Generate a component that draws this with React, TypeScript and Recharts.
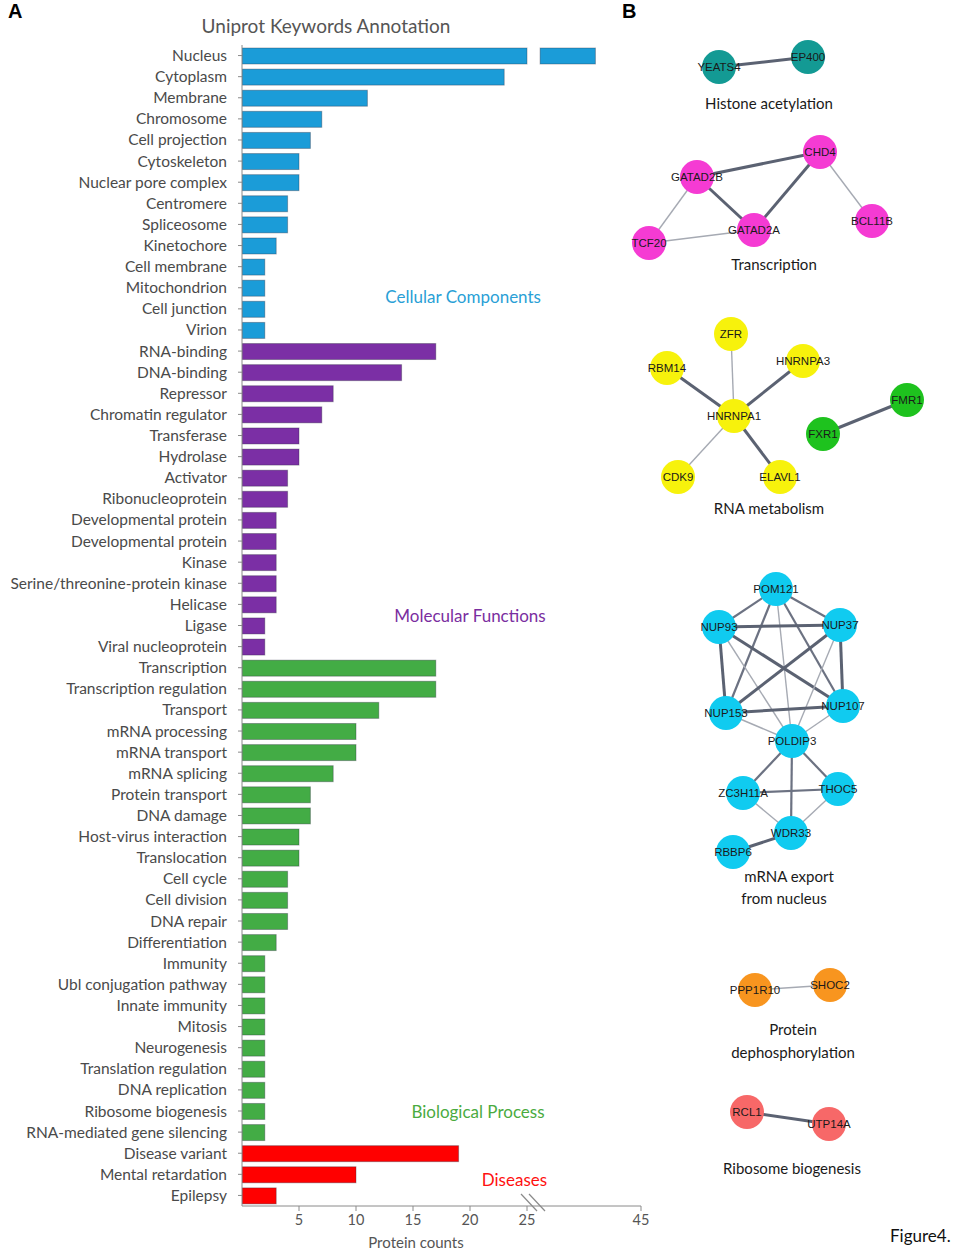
import { BarChart, Bar, XAxis, YAxis, Cell, ReferenceDot, ScatterChart, Scatter } from 'recharts';

// ── Panel A data ────────────────────────────────────────────────
const cellularComponents = [
  'Nucleus', 'Cytoplasm', 'Membrane', 'Chromosome', 'Cell projection', 'Cytoskeleton',
  'Nuclear pore complex', 'Centromere', 'Spliceosome', 'Kinetochore', 'Cell membrane',
  'Mitochondrion', 'Cell junction', 'Virion',
];
const cellularCounts = [37, 23, 11, 7, 6, 5, 5, 4, 4, 3, 2, 2, 2, 2];

const molecularFunctions = [
  'RNA-binding', 'DNA-binding', 'Repressor', 'Chromatin regulator', 'Transferase', 'Hydrolase',
  'Activator', 'Ribonucleoprotein', 'Developmental protein', 'Developmental protein', 'Kinase',
  'Serine/threonine-protein kinase', 'Helicase', 'Ligase', 'Viral nucleoprotein',
];
const molecularCounts = [17, 14, 8, 7, 5, 5, 4, 4, 3, 3, 3, 3, 3, 2, 2];

const biologicalProcesses = [
  'Transcription', 'Transcription regulation', 'Transport', 'mRNA processing', 'mRNA transport',
  'mRNA splicing', 'Protein transport', 'DNA damage', 'Host-virus interaction', 'Translocation',
  'Cell cycle', 'Cell division', 'DNA repair', 'Differentiation', 'Immunity',
  'Ubl conjugation pathway', 'Innate immunity', 'Mitosis', 'Neurogenesis',
  'Translation regulation', 'DNA replication', 'Ribosome biogenesis', 'RNA-mediated gene silencing',
];
const biologicalCounts = [17, 17, 12, 10, 10, 8, 6, 6, 5, 5, 4, 4, 4, 3, 2, 2, 2, 2, 2, 2, 2, 2, 2];

const diseases = ['Disease variant', 'Mental retardation', 'Epilepsy'];
const diseaseCounts = [19, 10, 3];

const xTickValues = [5, 10, 15, 20, 25, 45];

// axis break: everything above 25 is squeezed
const BREAK_AT = 25;
const SQUEEZE = 0.5;
const AXIS_MAX = 45;
const toAxis = (v: number) => (v <= BREAK_AT ? v : BREAK_AT + (v - BREAK_AT) * SQUEEZE);
const fromAxis = (a: number) => (a <= BREAK_AT ? a : Math.round(BREAK_AT + (a - BREAK_AT) / SQUEEZE));

const groups = [
  { key: 'cc', label: 'Cellular Components', color: '#1b9cd8', text: '#2a9fd6', names: cellularComponents, counts: cellularCounts },
  { key: 'mf', label: 'Molecular Functions', color: '#7b2fa5', text: '#7a2ea0', names: molecularFunctions, counts: molecularCounts },
  { key: 'bp', label: 'Biological Process', color: '#43ac45', text: '#4aab3f', names: biologicalProcesses, counts: biologicalCounts },
  { key: 'ds', label: 'Diseases', color: '#ff0000', text: '#ff1010', names: diseases, counts: diseaseCounts },
];

const rows = groups.flatMap((g) =>
  g.names.map((name, i) => ({
    id: `${g.key}-${i}`,
    name,
    count: g.counts[i],
    plot: toAxis(g.counts[i]),
    color: g.color,
  }))
);
const nameById: Record<string, string> = Object.fromEntries(rows.map((r) => [r.id, r.name]));

// where each group caption sits (row anchor + value on x)
const groupLabelSpots = [
  { group: 'cc', row: 'cc-11', x: 19.4, dy: 9 },
  { group: 'mf', row: 'mf-12', x: 20.0, dy: 12 },
  { group: 'bp', row: 'bp-21', x: 20.7, dy: 1 },
  { group: 'ds', row: 'ds-1', x: 23.9, dy: 6 },
];

// ── Panel B data (network layouts) ──────────────────────────────
const histoneNodes = [
  { name: 'YEATS4', x: 719, y: 67 },
  { name: 'EP400', x: 808, y: 57 },
];
const histoneEdges = [['YEATS4', 'EP400', 'thick']];

const transcriptionNodes = [
  { name: 'CHD4', x: 820, y: 152 },
  { name: 'GATAD2B', x: 697, y: 177 },
  { name: 'GATAD2A', x: 754, y: 230 },
  { name: 'TCF20', x: 649, y: 243 },
  { name: 'BCL11B', x: 872, y: 221 },
];
const transcriptionEdges = [
  ['GATAD2B', 'CHD4', 'thick'],
  ['GATAD2B', 'GATAD2A', 'thick'],
  ['GATAD2A', 'CHD4', 'thick'],
  ['GATAD2B', 'TCF20', 'thin'],
  ['TCF20', 'GATAD2A', 'thin'],
  ['CHD4', 'BCL11B', 'thin'],
];

const rnaNodes = [
  { name: 'ZFR', x: 731, y: 334 },
  { name: 'RBM14', x: 667, y: 368 },
  { name: 'HNRNPA3', x: 803, y: 361 },
  { name: 'HNRNPA1', x: 734, y: 416 },
  { name: 'CDK9', x: 678, y: 477 },
  { name: 'ELAVL1', x: 780, y: 477 },
];
const rnaEdges = [
  ['HNRNPA1', 'ZFR', 'thin'],
  ['HNRNPA1', 'RBM14', 'thick'],
  ['HNRNPA1', 'HNRNPA3', 'thick'],
  ['HNRNPA1', 'CDK9', 'thin'],
  ['HNRNPA1', 'ELAVL1', 'thick'],
];

const fragileNodes = [
  { name: 'FMR1', x: 907, y: 400 },
  { name: 'FXR1', x: 823, y: 434 },
];
const fragileEdges = [['FXR1', 'FMR1', 'thick']];

const exportNodes = [
  { name: 'POM121', x: 776, y: 589 },
  { name: 'NUP93', x: 719, y: 627 },
  { name: 'NUP37', x: 840, y: 625 },
  { name: 'NUP153', x: 726, y: 713 },
  { name: 'NUP107', x: 843, y: 706 },
  { name: 'POLDIP3', x: 792, y: 741 },
  { name: 'ZC3H11A', x: 743, y: 793 },
  { name: 'THOC5', x: 838, y: 789 },
  { name: 'WDR33', x: 791, y: 833 },
  { name: 'RBBP6', x: 733, y: 852 },
];
const exportEdges = [
  ['POM121', 'NUP93', 'medium'],
  ['POM121', 'NUP37', 'medium'],
  ['POM121', 'NUP153', 'medium'],
  ['POM121', 'NUP107', 'medium'],
  ['POM121', 'POLDIP3', 'thin'],
  ['NUP93', 'NUP37', 'thick'],
  ['NUP93', 'NUP153', 'thick'],
  ['NUP93', 'NUP107', 'thick'],
  ['NUP93', 'POLDIP3', 'thin'],
  ['NUP37', 'NUP153', 'thick'],
  ['NUP37', 'NUP107', 'thick'],
  ['NUP37', 'POLDIP3', 'thin'],
  ['NUP153', 'NUP107', 'thick'],
  ['NUP153', 'POLDIP3', 'thin'],
  ['NUP107', 'POLDIP3', 'thin'],
  ['POLDIP3', 'ZC3H11A', 'medium'],
  ['POLDIP3', 'THOC5', 'medium'],
  ['POLDIP3', 'WDR33', 'medium'],
  ['ZC3H11A', 'THOC5', 'medium'],
  ['ZC3H11A', 'WDR33', 'thin'],
  ['THOC5', 'WDR33', 'thin'],
  ['WDR33', 'RBBP6', 'thick'],
];

const dephosNodes = [
  { name: 'PPP1R10', x: 755, y: 990 },
  { name: 'SHOC2', x: 830, y: 985 },
];
const dephosEdges = [['PPP1R10', 'SHOC2', 'thin']];

const riboNodes = [
  { name: 'RCL1', x: 747, y: 1112 },
  { name: 'UTP14A', x: 829, y: 1124 },
];
const riboEdges = [['RCL1', 'UTP14A', 'thick']];

const captions = [
  { text: 'Histone acetylation', x: 769, y: 104 },
  { text: 'Transcription', x: 774, y: 265 },
  { text: 'RNA metabolism', x: 769, y: 509 },
  { text: 'mRNA export', x: 789, y: 877 },
  { text: 'from nucleus', x: 784, y: 899 },
  { text: 'Protein', x: 793, y: 1030 },
  { text: 'dephosphorylation', x: 793, y: 1053 },
  { text: 'Ribosome biogenesis', x: 792, y: 1169 },
];

const networks = [
  { nodes: histoneNodes, edges: histoneEdges, color: '#139a94' },
  { nodes: transcriptionNodes, edges: transcriptionEdges, color: '#f53bd3' },
  { nodes: rnaNodes, edges: rnaEdges, color: '#f7f20c' },
  { nodes: fragileNodes, edges: fragileEdges, color: '#1ec21e' },
  { nodes: exportNodes, edges: exportEdges, color: '#10cbf0' },
  { nodes: dephosNodes, edges: dephosEdges, color: '#f8951f' },
  { nodes: riboNodes, edges: riboEdges, color: '#f76868' },
];

const edgeStyle: Record<string, { stroke: string; strokeWidth: number }> = {
  thick: { stroke: '#5b6272', strokeWidth: 3 },
  medium: { stroke: '#6c7282', strokeWidth: 2.2 },
  thin: { stroke: '#a6aab3', strokeWidth: 1.4 },
};

const FONT = 'Lato, "Open Sans", sans-serif';

// ── shapes ──────────────────────────────────────────────────────
function BrokenBar(props: any) {
  const { x, y, width, height, payload } = props;
  const fill = payload.color;
  const stroke = 'rgba(40,40,60,0.35)';
  if (payload.count <= BREAK_AT) {
    return <rect x={x} y={y} width={width} height={height} fill={fill} stroke={stroke} strokeWidth={1} />;
  }
  const unit = width / payload.plot;
  const cut = x + BREAK_AT * unit;
  const resume = x + (BREAK_AT + 1.15) * unit;
  return (
    <g>
      <rect x={x} y={y} width={cut - x} height={height} fill={fill} stroke={stroke} strokeWidth={1} />
      <rect x={resume} y={y} width={x + width - resume} height={height} fill={fill} stroke={stroke} strokeWidth={1} />
    </g>
  );
}

function XTick({ x, y, payload }: any) {
  const value = fromAxis(payload.value);
  const ay = y - 7;
  return (
    <g>
      <text x={x} y={y} dy={12} textAnchor="middle" fontSize={14.5} fill="#555" fontFamily={FONT}>
        {value}
      </text>
      {value === BREAK_AT && (
        <g stroke="#8a8a8a" strokeWidth={1.2}>
          <line x1={x - 6} y1={ay - 12} x2={x + 10} y2={ay + 5} />
          <line x1={x + 2} y1={ay - 12} x2={x + 18} y2={ay + 5} />
        </g>
      )}
    </g>
  );
}

function NodeShape({ cx, cy, payload, fill }: any) {
  return (
    <g>
      <circle cx={cx} cy={cy} r={17} fill={fill} />
      <text x={cx} y={cy} dy={4} textAnchor="middle" fontSize={11.5} fill="#1a1a1a" fontFamily="Arial, 'Liberation Sans', sans-serif">
        {payload.name}
      </text>
    </g>
  );
}

function CaptionShape({ cx, cy, payload }: any) {
  return (
    <text x={cx} y={cy} dy={5} textAnchor="middle" fontSize={15} fill="#1a1a1a" fontFamily={FONT}>
      {payload.text}
    </text>
  );
}

const noPoint = () => <g />;

// ── main ────────────────────────────────────────────────────────
export default function App() {
  return (
    <div style={{ position: 'relative', width: 955, height: 1251, background: '#fff', fontFamily: FONT }}>
      <style>{'body{margin:0}'}</style>

      <div style={{ position: 'absolute', left: 8, top: 0, fontFamily: 'Arial, sans-serif', fontWeight: 700, fontSize: 20 }}>A</div>
      <div style={{ position: 'absolute', left: 622, top: 0, fontFamily: 'Arial, sans-serif', fontWeight: 700, fontSize: 20 }}>B</div>
      <div style={{ position: 'absolute', left: 160, width: 332, top: 14, textAlign: 'center', fontSize: 19, color: '#555' }}>
        Uniprot Keywords Annotation
      </div>
      <div style={{ position: 'absolute', left: 316, width: 200, top: 1233, textAlign: 'center', fontSize: 15, color: '#555' }}>
        Protein counts
      </div>
      <div style={{ position: 'absolute', left: 890, top: 1225, fontSize: 17, color: '#111' }}>Figure4.</div>

      {/* Panel A */}
      <div style={{ position: 'absolute', left: 0, top: 0 }}>
        <BarChart
          width={660}
          height={1251}
          data={rows}
          layout="vertical"
          margin={{ top: 45, right: 19, bottom: 15, left: 0 }}
          barSize={16}
        >
          <XAxis
            type="number"
            dataKey="plot"
            domain={[0, toAxis(AXIS_MAX)]}
            ticks={xTickValues.map(toAxis)}
            tick={<XTick />}
            tickSize={5}
            tickMargin={2}
            height={30}
            axisLine={{ stroke: '#8a8a8a' }}
            tickLine={{ stroke: '#8a8a8a' }}
            allowDataOverflow
          />
          <YAxis
            type="category"
            dataKey="id"
            width={242}
            interval={0}
            tickFormatter={(id: string) => nameById[id]}
            tick={{ fontSize: 15.5, fill: '#4a4a4a', fontFamily: FONT }}
            tickSize={4}
            tickMargin={11}
            axisLine={{ stroke: '#8a8a8a' }}
            tickLine={{ stroke: '#8a8a8a' }}
          />
          <Bar dataKey="plot" shape={<BrokenBar />} isAnimationActive={false}>
            {rows.map((r) => (
              <Cell key={r.id} fill={r.color} />
            ))}
          </Bar>
          {groupLabelSpots.map((s) => {
            const g = groups.find((gg) => gg.key === s.group)!;
            return (
              <ReferenceDot
                key={s.group}
                x={s.x}
                y={s.row}
                r={0}
                shape={(p: any) => (
                  <text x={p.cx} y={p.cy + s.dy} dy={6} textAnchor="middle" fontSize={17} fill={g.text} fontFamily={FONT}>
                    {g.label}
                  </text>
                )}
              />
            );
          })}
        </BarChart>
      </div>

      {/* Panel B */}
      <div style={{ position: 'absolute', left: 620, top: 0 }}>
        <ScatterChart width={335} height={1251} margin={{ top: 0, right: 0, bottom: 0, left: 0 }}>
          <XAxis type="number" dataKey="x" domain={[620, 955]} hide allowDataOverflow />
          <YAxis type="number" dataKey="y" domain={[0, 1251]} reversed hide allowDataOverflow />
          {networks.flatMap((net, ni) =>
            net.edges.map(([a, b, w], ei) => {
              const na = net.nodes.find((n) => n.name === a)!;
              const nb = net.nodes.find((n) => n.name === b)!;
              return (
                <Scatter
                  key={`e-${ni}-${ei}`}
                  data={[na, nb]}
                  line={edgeStyle[w]}
                  shape={noPoint}
                  isAnimationActive={false}
                />
              );
            })
          )}
          {networks.map((net, ni) => (
            <Scatter
              key={`n-${ni}`}
              data={net.nodes}
              fill={net.color}
              shape={<NodeShape />}
              isAnimationActive={false}
            />
          ))}
          <Scatter data={captions} shape={<CaptionShape />} isAnimationActive={false} />
        </ScatterChart>
      </div>
    </div>
  );
}
